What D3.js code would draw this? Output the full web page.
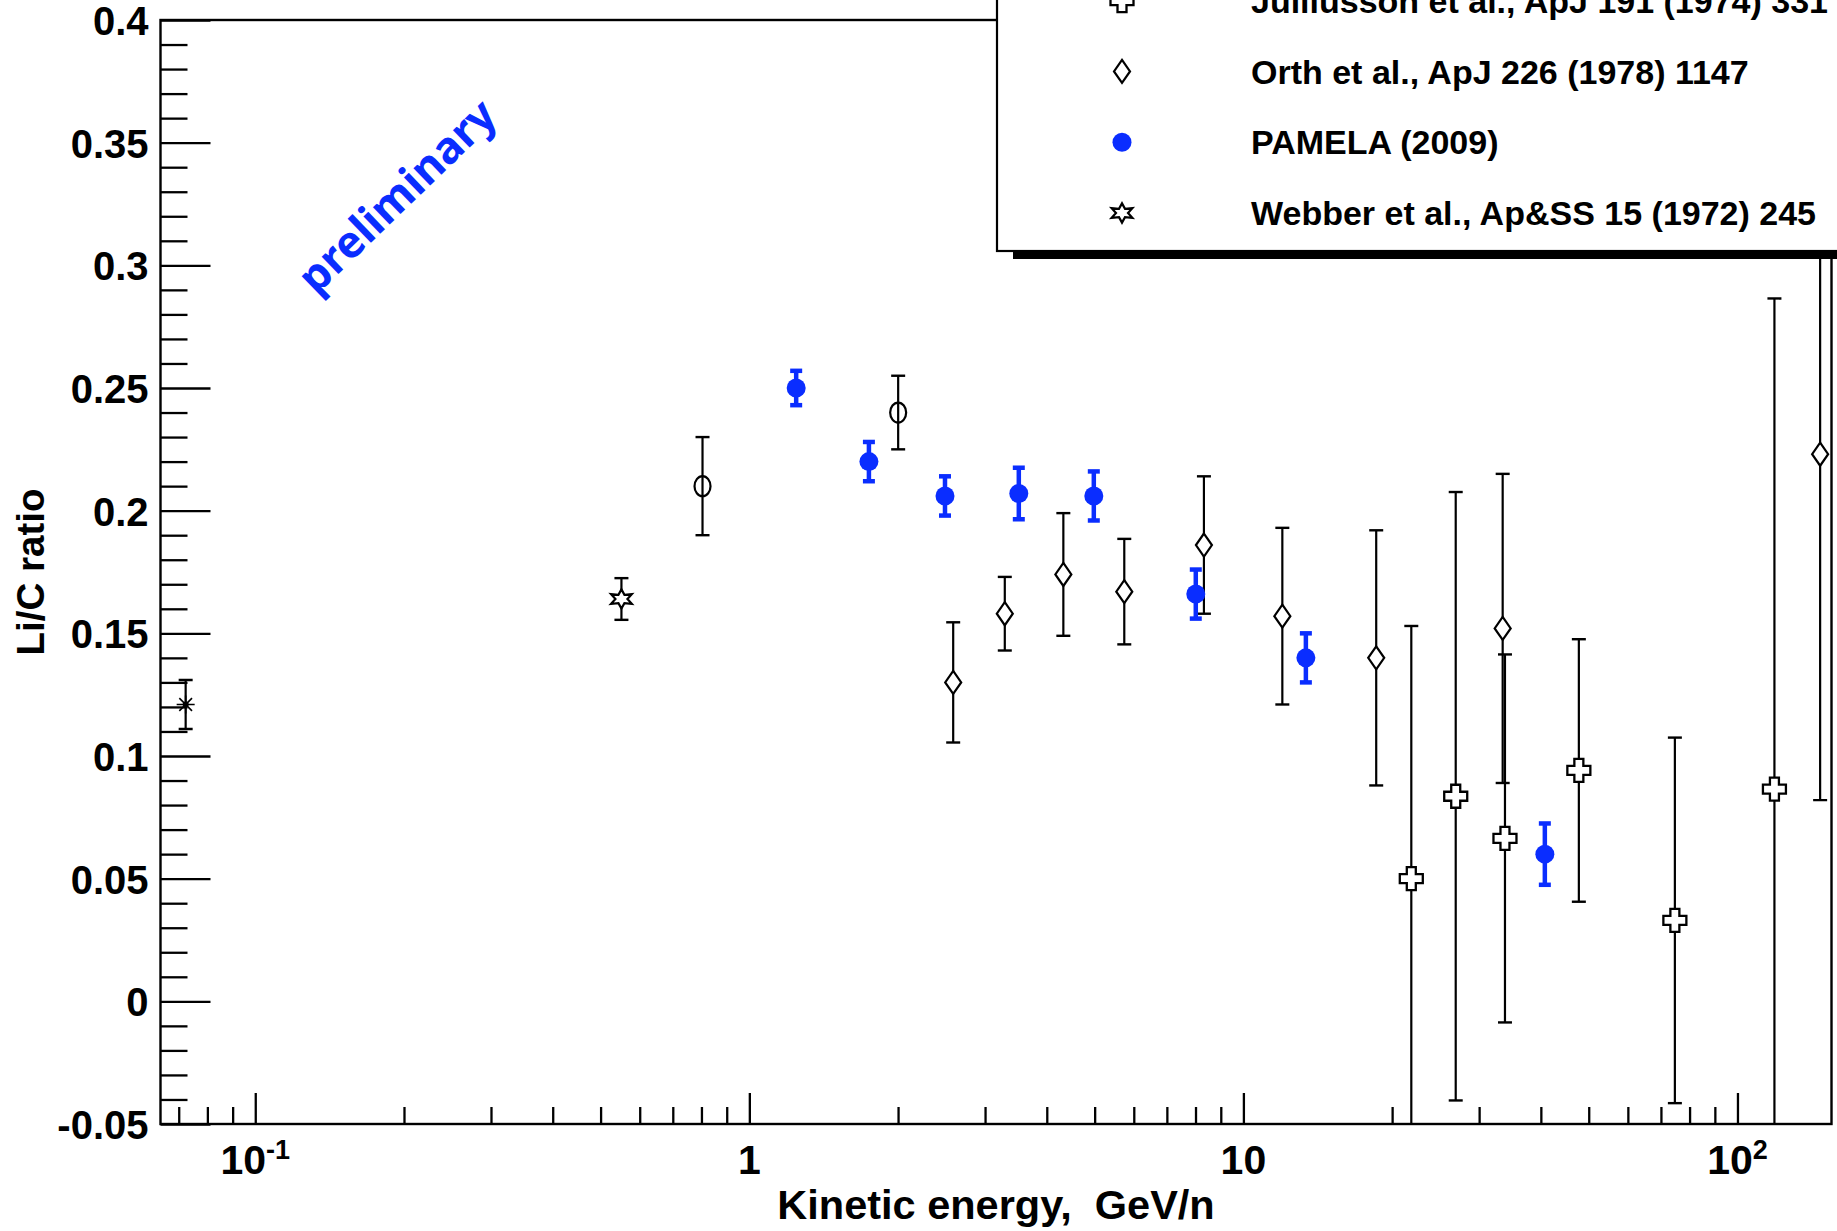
<!DOCTYPE html>
<html>
<head>
<meta charset="utf-8">
<script src="https://cdn.jsdelivr.net/npm/d3@7"></script>
<style>
  html, body { margin: 0; padding: 0; background: #fff; }
  svg { display: block; }
  text { font-family: "Liberation Sans", Arial, Helvetica, sans-serif; font-weight: bold; fill: #000; }
</style>
</head>
<body>
<svg id="chart" width="1837" height="1231"></svg>
<script>
// ---------------- data ----------------
const xDomain = [0.0643, 155];
const yDomain = [-0.05, 0.4];

const yMajorTicks = [-0.05, 0, 0.05, 0.1, 0.15, 0.2, 0.25, 0.3, 0.35, 0.4];
const yTickLabels = ["-0.05", "0", "0.05", "0.1", "0.15", "0.2", "0.25", "0.3", "0.35", "0.4"];
const xMajorTicks = [0.1, 1, 10, 100];
const xTickBase = ["10", "1", "10", "10"];
const xTickExp = ["-1", "", "", "2"];

// PAMELA (2009)
const pamelaE   = [1.244, 1.746, 2.489, 3.511, 4.98, 8.01, 13.38, 40.75];
const pamelaR   = [0.250, 0.220, 0.206, 0.207, 0.206, 0.166, 0.140, 0.060];
const pamelaErr = [0.007, 0.008, 0.008, 0.0105, 0.010, 0.010, 0.010, 0.0125];

// Orth et al., ApJ 226 (1978) 1147
const orthE   = [2.586, 3.289, 4.321, 5.74, 8.32, 11.99, 18.57, 33.48, 147];
const orthR   = [0.130, 0.158, 0.174, 0.167, 0.186, 0.157, 0.140, 0.152, 0.223];
const orthErr = [0.0245, 0.015, 0.025, 0.0215, 0.028, 0.036, 0.052, 0.063, 0.141];

// Julliusson et al., ApJ 191 (1974) 331
const julE   = [21.87, 26.9, 33.84, 47.75, 74.7, 118.8];
const julR   = [0.050, 0.0836, 0.0664, 0.0941, 0.033, 0.0865];
const julErr = [0.103, 0.124, 0.075, 0.0535, 0.0745, 0.200];

// Webber et al., Ap&SS 15 (1972) 245
const webE   = [0.551];
const webR   = [0.164];
const webErr = [0.0085];

// open-circle data set (legend entry cut off above)
const circE   = [0.804, 2.001];
const circR   = [0.210, 0.240];
const circErr = [0.020, 0.015];

// asterisk data set (legend entry cut off above)
const astE   = [0.0723];
const astR   = [0.121];
const astErr = [0.010];

const legendLabels = [
  "Julliusson et al., ApJ 191 (1974) 331",
  "Orth et al., ApJ 226 (1978) 1147",
  "PAMELA (2009)",
  "Webber et al., Ap&SS 15 (1972) 245"
];
const legendMarkers = ["cross", "diamond", "pamela", "star"];

// ---------------- layout ----------------
const plot = { left: 160.5, right: 1831.5, top: 20, bottom: 1124 };
const blue = "#0a2dff";

const svg = d3.select("#chart");
const x = d3.scaleLog().domain(xDomain).range([plot.left, plot.right]);
const y = d3.scaleLinear().domain(yDomain).range([plot.bottom, plot.top]);

svg.append("defs").append("clipPath").attr("id", "plotClip")
  .append("rect")
  .attr("x", plot.left).attr("y", plot.top)
  .attr("width", plot.right - plot.left).attr("height", plot.bottom - plot.top);

// ---------------- axes ----------------
const yMinor = d3.range(-50, 401, 10).map(v => v / 1000).filter(v => !yMajorTicks.some(m => Math.abs(m - v) < 1e-9));
svg.append("g").attr("transform", `translate(${plot.left},0)`)
  .call(d3.axisLeft(y).tickValues(yMinor).tickSize(-27).tickFormat(""));
const gY = svg.append("g").attr("transform", `translate(${plot.left},0)`)
  .call(d3.axisLeft(y).tickValues(yMajorTicks).tickSize(-50).tickPadding(12)
    .tickFormat((d, i) => yTickLabels[i]));
gY.selectAll("text").style("font-size", "40px").attr("dy", "0.36em");

const xMinor = [];
[0.01, 0.1, 1, 10, 100].forEach(dec => {
  for (let k = 2; k <= 9; k++) {
    const v = dec * k;
    if (v > xDomain[0] && v < xDomain[1]) xMinor.push(v);
  }
});
svg.append("g").attr("transform", `translate(0,${plot.bottom})`)
  .call(d3.axisBottom(x).tickValues(xMinor).tickSize(-17).tickFormat(""));
svg.append("g").attr("transform", `translate(0,${plot.bottom})`)
  .call(d3.axisBottom(x).tickValues(xMajorTicks).tickSize(-31).tickFormat(""));

svg.selectAll(".domain").remove();
svg.selectAll(".tick line").attr("stroke", "#000").attr("stroke-width", 2.3);

const xl = svg.append("g");
xMajorTicks.forEach((v, i) => {
  const t = xl.append("text")
    .attr("x", x(v)).attr("y", 1174)
    .attr("text-anchor", "middle")
    .style("font-size", "41px");
  t.append("tspan").text(xTickBase[i]);
  if (xTickExp[i]) {
    t.append("tspan").attr("dy", "-0.55em").style("font-size", "27px").text(xTickExp[i]);
  }
});

svg.append("rect")
  .attr("x", plot.left).attr("y", plot.top)
  .attr("width", plot.right - plot.left).attr("height", plot.bottom - plot.top)
  .attr("fill", "none").attr("stroke", "#000").attr("stroke-width", 2.4);

svg.append("text")
  .attr("x", (plot.left + plot.right) / 2).attr("y", 1219)
  .attr("text-anchor", "middle").style("font-size", "41.5px")
  .attr("xml:space", "preserve")
  .text("Kinetic energy,  GeV/n");
svg.append("text")
  .attr("transform", `translate(44,${(plot.top + plot.bottom) / 2}) rotate(-90)`)
  .attr("text-anchor", "middle").style("font-size", "38.5px")
  .text("Li/C ratio");

svg.append("text")
  .attr("transform", "translate(397,196) rotate(-44)")
  .attr("text-anchor", "middle")
  .attr("dy", "0.35em")
  .style("font-family", "'Noto Sans', 'Open Sans', sans-serif")
  .style("font-size", "44px")
  .style("font-weight", "bold")
  .style("fill", blue)
  .text("preliminary");

// ---------------- markers ----------------
function drawMarker(g, type, cx, cy) {
  if (type === "diamond") {
    const w = 8, h = 11.5;
    g.append("path")
      .attr("d", `M${cx},${cy - h}L${cx + w},${cy}L${cx},${cy + h}L${cx - w},${cy}Z`)
      .attr("fill", "#fff").attr("stroke", "#000").attr("stroke-width", 2.2);
  } else if (type === "cross") {
    const a = 4.5, L = 11.5;
    const p = [[-a, -L], [a, -L], [a, -a], [L, -a], [L, a], [a, a], [a, L], [-a, L], [-a, a], [-L, a], [-L, -a], [-a, -a]];
    g.append("path")
      .attr("d", "M" + p.map(q => `${cx + q[0]},${cy + q[1]}`).join("L") + "Z")
      .attr("fill", "#fff").attr("stroke", "#000").attr("stroke-width", 2.3);
  } else if (type === "pamela") {
    g.append("circle").attr("cx", cx).attr("cy", cy).attr("r", 9.5).attr("fill", blue);
  } else if (type === "circle") {
    g.append("ellipse").attr("cx", cx).attr("cy", cy).attr("rx", 8).attr("ry", 10)
      .attr("fill", "none").attr("stroke", "#000").attr("stroke-width", 2.2);
  } else if (type === "star") {
    const pts = [];
    for (let k = 0; k < 12; k++) {
      const r = k % 2 === 0 ? 12 : 6;
      const ang = -Math.PI / 2 + k * Math.PI / 6;
      pts.push([cx + r * Math.cos(ang), cy + r * Math.sin(ang) * 0.8]);
    }
    g.append("path")
      .attr("d", "M" + pts.map(q => q.join(",")).join("L") + "Z")
      .attr("fill", "#fff").attr("stroke", "#000").attr("stroke-width", 2.2);
  } else if (type === "asterisk") {
    const r = 9;
    [0, 45, 90, 135].forEach(a => {
      const dx = r * Math.cos(a * Math.PI / 180), dy = r * Math.sin(a * Math.PI / 180);
      g.append("line").attr("x1", cx - dx).attr("y1", cy - dy).attr("x2", cx + dx).attr("y2", cy + dy)
        .attr("stroke", "#000").attr("stroke-width", 1.6);
    });
    g.append("circle").attr("cx", cx).attr("cy", cy).attr("r", 3).attr("fill", "#000");
  }
}

function drawSeries(E, R, Err, type, opts) {
  const g = svg.append("g").attr("clip-path", "url(#plotClip)");
  const color = opts.color || "#000";
  const lw = opts.lw || 2.2;
  const cap = opts.cap || 7;
  const capW = opts.capW || 2.4;
  E.forEach((e, i) => {
    const cx = x(e);
    const y1 = y(R[i] + Err[i]), y0 = y(R[i] - Err[i]);
    g.append("line").attr("x1", cx).attr("x2", cx).attr("y1", y1).attr("y2", y0)
      .attr("stroke", color).attr("stroke-width", lw);
    [y1, y0].forEach(yy => {
      g.append("line").attr("x1", cx - cap).attr("x2", cx + cap).attr("y1", yy).attr("y2", yy)
        .attr("stroke", color).attr("stroke-width", capW);
    });
  });
  E.forEach((e, i) => drawMarker(g, type, x(e), y(R[i])));
}

drawSeries(astE, astR, astErr, "asterisk", {});
drawSeries(webE, webR, webErr, "star", {});
drawSeries(circE, circR, circErr, "circle", {});
drawSeries(orthE, orthR, orthErr, "diamond", {});
drawSeries(julE, julR, julErr, "cross", {});
drawSeries(pamelaE, pamelaR, pamelaErr, "pamela", { color: blue, lw: 4.5, cap: 6, capW: 4.5 });

// ---------------- legend ----------------
const leg = { left: 997, bottom: 251, top: -120, right: 1900 };
svg.append("rect")
  .attr("x", leg.left + 16).attr("y", leg.top + 8)
  .attr("width", leg.right - leg.left).attr("height", leg.bottom - leg.top)
  .attr("fill", "#000");
svg.append("rect")
  .attr("x", leg.left).attr("y", leg.top)
  .attr("width", leg.right - leg.left).attr("height", leg.bottom - leg.top)
  .attr("fill", "#fff").attr("stroke", "#000").attr("stroke-width", 2.2);

const rowStep = 70.8;
const lastRowY = 213;
legendLabels.forEach((lab, i) => {
  const cy = lastRowY - (legendLabels.length - 1 - i) * rowStep;
  const g = svg.append("g");
  drawMarker(g, legendMarkers[i], 1122, cy);
  g.append("text").attr("x", 1251).attr("y", cy).attr("dy", "0.36em")
    .style("font-size", "34px").text(lab);
});
</script>
</body>
</html>
